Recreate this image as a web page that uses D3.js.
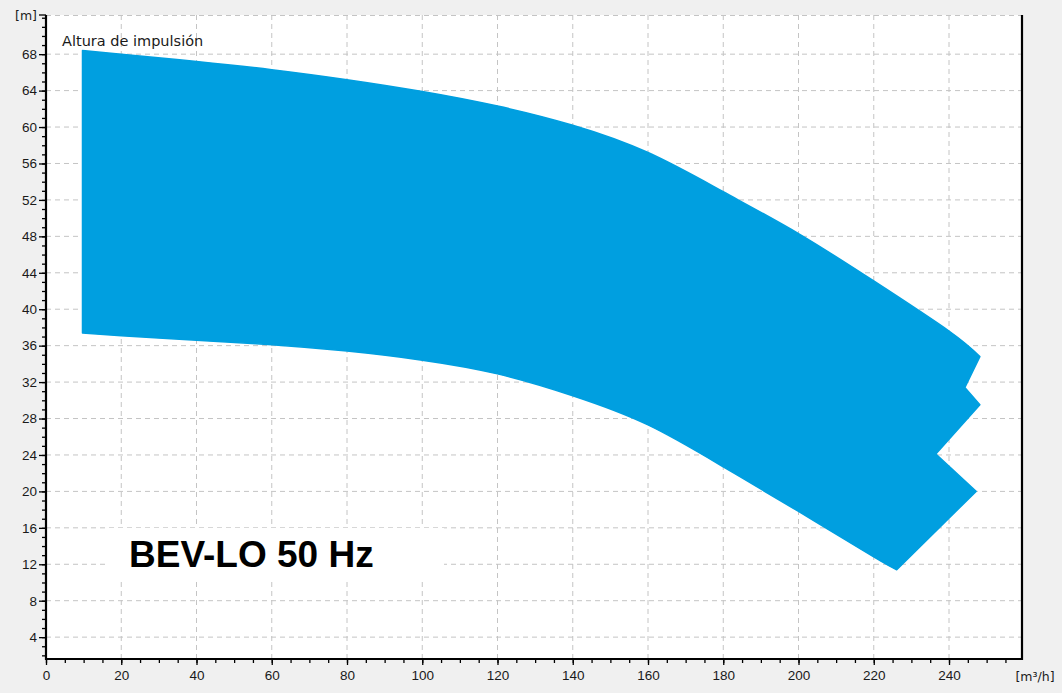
<!DOCTYPE html>
<html>
<head>
<meta charset="utf-8">
<script src="https://cdn.jsdelivr.net/npm/d3@7"></script>
<style>
  body { margin: 0; background: #f0f0f0; }
  svg { display: block; font-family: "DejaVu Sans", Verdana, sans-serif; }
</style>
</head>
<body>
<svg id="chart"></svg>
<script>
// flow [m³/h] / head [m] envelope of the pump range
const topFlow = [9.7, 20, 40, 60, 80, 100, 120, 140, 160, 180, 200, 220, 240, 248.2]
const topHead = [68.4, 68.0, 67.2, 66.3, 65.2, 63.9, 62.3, 60.2, 57.2, 52.9, 48.3, 43.1, 37.6, 34.8]

// zig-zag at the right end (top to bottom)
const rightFlow = [244.2, 248.2, 236.5, 247.2]
const rightHead = [31.4, 29.5, 24.1, 20.0]

// lower boundary, right to left
const bottomFlow = [226.1, 220, 200, 180, 160, 140, 120, 100, 80, 60, 40, 20, 9.7]
const bottomHead = [11.4, 12.8, 17.8, 22.7, 27.3, 30.5, 32.9, 34.4, 35.4, 36.1, 36.6, 37.1, 37.4]

const xTicks = [0, 20, 40, 60, 80, 100, 120, 140, 160, 180, 200, 220, 240]
const yTicks = [4, 8, 12, 16, 20, 24, 28, 32, 36, 40, 44, 48, 52, 56, 60, 64, 68]

const width = 1062, height = 693
const plot = {left: 46, right: 1022, top: 15, bottom: 659}

const svg = d3.select('#chart').attr('width', width).attr('height', height)

const xScale = d3.scaleLinear().domain([0, 259.4]).range([plot.left, plot.right])
const yScale = d3.scaleLinear().domain([1.6, 72.3]).range([plot.bottom, plot.top])

// white plot area
svg.append('rect')
    .attr('x', plot.left).attr('y', plot.top)
    .attr('width', plot.right - plot.left).attr('height', plot.bottom - plot.top)
    .attr('fill', '#fff')

// dashed grid
const grid = svg.append('g').attr('stroke', '#c4c4c4').attr('stroke-dasharray', '5,4')
grid.selectAll('.vgrid').data(xTicks.filter(d => d > 0)).join('line')
    .attr('x1', d => xScale(d)).attr('x2', d => xScale(d))
    .attr('y1', plot.top).attr('y2', plot.bottom)
grid.selectAll('.hgrid').data(yTicks).join('line')
    .attr('y1', d => yScale(d)).attr('y2', d => yScale(d))
    .attr('x1', plot.left).attr('x2', plot.right)
grid.append('line')
    .attr('x1', plot.left).attr('x2', plot.right)
    .attr('y1', plot.top + 0.5).attr('y2', plot.top + 0.5)

// envelope: smooth top and bottom, sharp zig-zag on the right
const smooth = d3.line()
    .x(d => xScale(d[0]))
    .y(d => yScale(d[1]))
    .curve(d3.curveNatural)

const topPts = topFlow.map((q, i) => [q, topHead[i]])
const rightPts = rightFlow.map((q, i) => [q, rightHead[i]])
const bottomPts = bottomFlow.map((q, i) => [q, bottomHead[i]])

let d = smooth(topPts)
rightPts.forEach(p => { d += `L${xScale(p[0])},${yScale(p[1])}` })
d += smooth(bottomPts).replace(/^M/, 'L') + 'Z'

svg.append('path')
    .attr('d', d)
    .attr('fill', '#009fe0')
    .attr('stroke', '#009fe0')
    .attr('stroke-width', 1.5)
    .attr('stroke-linejoin', 'round')

// axes
const xAxis = d3.axisBottom(xScale).tickValues(xTicks).tickSize(6).tickPadding(5)
const xMinor = d3.axisBottom(xScale).tickValues(d3.range(0, 259, 5)).tickSize(4).tickFormat('')
const yAxis = d3.axisLeft(yScale).tickValues(yTicks).tickSize(7).tickPadding(2)
const yMinor = d3.axisLeft(yScale).tickValues(d3.range(2, 73, 1)).tickSize(4).tickFormat('')

function styleAxis(g) {
    g.select('.domain').remove()
    g.selectAll('line').attr('stroke', '#000').attr('stroke-width', 1.3)
    g.selectAll('text').attr('fill', '#1a1a1a').style('font-size', '13.5px')
}

svg.append('g').attr('transform', `translate(0, ${plot.bottom})`).call(xMinor).call(styleAxis)
svg.append('g').attr('transform', `translate(0, ${plot.bottom})`).call(xAxis).call(styleAxis)
svg.append('g').attr('transform', `translate(${plot.left}, 0)`).call(yMinor).call(styleAxis)
svg.append('g').attr('transform', `translate(${plot.left}, 0)`).call(yAxis).call(styleAxis)

// frame lines
const frame = svg.append('g').attr('stroke', '#000').attr('stroke-width', 2.2)
frame.append('line').attr('x1', plot.left).attr('x2', plot.left).attr('y1', plot.top).attr('y2', plot.bottom + 1)
frame.append('line').attr('x1', plot.left).attr('x2', plot.right + 1).attr('y1', plot.bottom).attr('y2', plot.bottom)
frame.append('line').attr('x1', plot.right).attr('x2', plot.right).attr('y1', plot.top).attr('y2', plot.bottom + 1)

// top tick with unit label
svg.append('line').attr('x1', plot.left - 7).attr('x2', plot.left)
    .attr('y1', plot.top).attr('y2', plot.top).attr('stroke', '#000').attr('stroke-width', 1.3)
svg.append('text').attr('x', 37).attr('y', plot.top + 5)
    .attr('text-anchor', 'end').attr('fill', '#1a1a1a').style('font-size', '12.5px').text('[m]')
svg.append('text').attr('x', 1035).attr('y', 681)
    .attr('text-anchor', 'middle').attr('fill', '#1a1a1a').style('font-size', '12.5px').text('[m³/h]')

// curve name
svg.append('text').attr('x', 62).attr('y', 46)
    .attr('fill', '#1a1a1a').style('font-size', '14.5px').text('Altura de impulsión')

// model label on white box
svg.append('rect').attr('x', 108).attr('y', 528).attr('width', 336).attr('height', 52).attr('fill', '#fff')
svg.append('text').attr('x', 129).attr('y', 567)
    .attr('fill', '#000')
    .style('font-family', 'Arial, "Liberation Sans", sans-serif')
    .style('font-size', '37px').style('font-weight', 'bold').text('BEV-LO 50 Hz')
</script>
</body>
</html>
